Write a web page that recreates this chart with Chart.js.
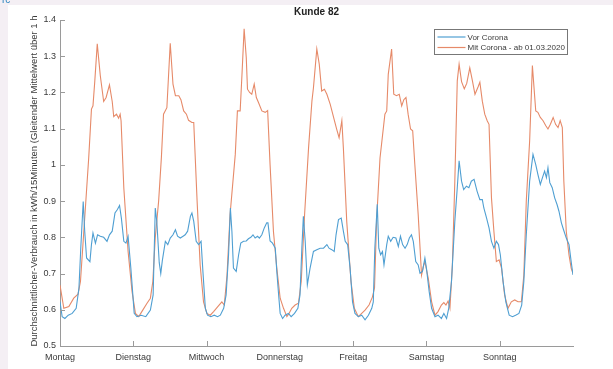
<!DOCTYPE html>
<html>
<head>
<meta charset="utf-8">
<script src="https://cdn.jsdelivr.net/npm/chart.js@4/dist/chart.umd.min.js"></script>
<style>
  html, body { margin: 0; padding: 0; background: #ffffff; }
  #wrap { width: 613px; height: 369px; }
</style>
</head>
<body>
<div id="wrap"><canvas id="c" width="613" height="369"></canvas></div>
<script>
// ---------- data ----------
const chartTitle = 'Kunde 82';
const yAxisTitle = 'Durchschnittlicher-Verbrauch in kWh/15Minuten (Gleitender Mittelwert über 1 h';
const dayLabels = ['Montag', 'Dienstag', 'Mittwoch', 'Donnerstag', 'Freitag', 'Samstag', 'Sonntag'];
const seriesNames = ['Vor Corona', 'Mit Corona - ab 01.03.2020'];

// hours since Monday 00:00
const vorHours = [
  0, 0.7, 1.6, 2.7, 4.0, 5.3, 6.2, 6.8, 7.6, 8.1, 8.7, 9.8, 10.3, 10.8, 11.6, 12.3, 13.2, 14.3, 15.4, 16.2, 17.1, 18.0, 18.8, 19.5, 20.1, 20.9, 21.6, 22.3, 23.2,
  24.3, 25.2, 26.6, 28.1, 29.6, 30.5, 31.2, 31.7, 32.5, 33.0, 33.5, 34.5, 35.3, 36.1, 37.0, 37.8, 38.5, 39.4, 40.3, 41.0, 41.8, 42.7, 43.2, 43.8, 44.6, 45.4, 46.2, 46.8, 47.6,
  48.3, 49.4, 50.5, 51.6, 52.5, 53.6, 54.4, 55.2, 55.8, 56.3, 56.8, 57.7, 58.5, 59.2, 60.1, 61.0, 61.7, 62.5, 63.2, 63.9, 64.7, 65.3, 66.1, 66.9, 67.7, 68.1, 68.8, 69.6, 70.5, 71.0, 71.6,
  72.1, 72.9, 73.7, 74.8, 75.7, 76.8, 77.9, 78.6, 79.2, 79.7, 80.3, 81.0, 81.9, 83.0, 84.1, 85.2, 86.3, 87.4, 88.1, 89.0, 89.8, 90.4, 91.2, 92.1, 92.8, 93.4, 94.2, 95.0, 95.8,
  96.6, 97.7, 98.8, 99.9, 101.0, 102.1, 102.6, 103.1, 103.9, 104.4, 105.0, 105.6, 106.1, 107.0, 107.5, 108.3, 109.1, 110.0, 110.8, 111.5, 112.2, 113.0, 113.7, 114.4, 115.1, 115.7, 116.5, 117.3, 117.9, 118.7, 119.5, 120.0, 120.9, 121.7,
  122.8, 123.8, 124.9, 125.7, 126.6, 127.3, 128.2, 129.3, 130.1, 130.7, 131.5, 132.2, 133.1, 133.9, 134.7, 135.6, 136.6, 137.5, 138.3, 138.8, 139.7, 140.5, 141.3, 142.1, 142.9, 143.6, 144.2, 145.1, 146.0,
  147.1, 148.2, 149.2, 150.3, 151.2, 151.9, 152.7, 153.8, 154.9, 155.8, 156.5, 157.3, 158.0, 158.7, 159.3, 159.8, 160.4, 161.2, 162.0, 162.8, 163.4, 164.2, 164.9, 165.8, 166.7, 167.4, 168.0
];
const vorValues = [
  0.622, 0.581, 0.576, 0.585, 0.590, 0.604, 0.659, 0.770, 0.899, 0.816, 0.743, 0.733, 0.780, 0.812, 0.784, 0.807, 0.803, 0.800, 0.789, 0.807, 0.817, 0.867, 0.877, 0.888, 0.853, 0.789, 0.784, 0.803, 0.715,
  0.590, 0.581, 0.585, 0.581, 0.599, 0.641, 0.881, 0.844, 0.730, 0.700, 0.735, 0.789, 0.780, 0.798, 0.807, 0.821, 0.803, 0.798, 0.803, 0.807, 0.817, 0.858, 0.867, 0.844, 0.789, 0.780, 0.789, 0.706, 0.604,
  0.585, 0.581, 0.585, 0.581, 0.585, 0.604, 0.641, 0.752, 0.881, 0.816, 0.715, 0.706, 0.752, 0.784, 0.789, 0.790, 0.796, 0.800, 0.807, 0.798, 0.803, 0.798, 0.807, 0.826, 0.840, 0.840, 0.790, 0.784, 0.770, 0.706, 0.641,
  0.590, 0.576, 0.585, 0.590, 0.581, 0.590, 0.604, 0.641, 0.770, 0.858, 0.789, 0.669, 0.715, 0.761, 0.766, 0.770, 0.770, 0.780, 0.770, 0.766, 0.761, 0.807, 0.849, 0.853, 0.817, 0.789, 0.780, 0.715, 0.622,
  0.590, 0.581, 0.585, 0.572, 0.585, 0.604, 0.622, 0.770, 0.891, 0.770, 0.752, 0.761, 0.724, 0.780, 0.803, 0.789, 0.800, 0.798, 0.775, 0.803, 0.780, 0.770, 0.780, 0.798, 0.807, 0.789, 0.733, 0.724, 0.701, 0.706, 0.743, 0.715, 0.650, 0.604,
  0.581, 0.585, 0.576, 0.590, 0.576, 0.604, 0.678, 0.844, 0.937, 1.011, 0.955, 0.932, 0.941, 0.937, 0.955, 0.960, 0.927, 0.904, 0.904, 0.881, 0.853, 0.826, 0.789, 0.770, 0.789, 0.780, 0.752, 0.678, 0.622,
  0.585, 0.581, 0.585, 0.590, 0.613, 0.678, 0.807, 0.955, 1.029, 1.001, 0.974, 0.946, 0.965, 0.983, 0.965, 0.992, 0.951, 0.937, 0.909, 0.890, 0.872, 0.840, 0.821, 0.798, 0.780, 0.733, 0.696
];

const mitHours = [
  0, 1.25, 2.9, 4.5, 5.9, 6.7, 7.8, 9.4, 10.3, 10.8, 11.4, 12.2, 13.2, 14.3, 15.1, 16.2, 17.1, 17.6, 18.5, 19.2, 19.7, 20.0, 20.9, 22.3, 23.6,
  24.7, 25.8, 27.1, 28.5, 29.6, 30.4, 31.2, 32.3, 33.2, 33.9, 35.0, 36.1, 37.0, 37.8, 38.9, 39.6, 40.5, 41.4, 42.1, 43.2, 43.8, 44.9, 45.9, 47.0,
  48.1, 49.2, 50.3, 51.4, 53.0, 53.8, 54.7, 55.7, 57.4, 58.1, 59.0, 59.6, 60.3, 61.0, 61.4, 62.1, 62.8, 63.6, 64.3, 65.0, 66.1, 67.2, 68.0, 68.8, 69.9, 71.0,
  72.1, 73.2, 74.3, 75.0, 75.9, 77.0, 78.1, 79.0, 80.1, 81.4, 82.5, 83.0, 84.1, 84.9, 85.7, 86.6, 87.4, 88.5, 89.6, 90.6, 91.4, 92.3, 92.8, 93.9, 95.3,
  96.4, 97.7, 98.8, 99.9, 101.2, 102.3, 103.0, 103.7, 104.8, 106.4, 107.0, 107.5, 108.6, 109.3, 110.2, 111.1, 111.9, 112.6, 113.3, 114.0, 114.8, 115.5, 116.2, 117.3, 118.4, 119.0, 119.5, 120.6, 121.7,
  122.8, 123.8, 124.9, 125.7, 126.4, 127.1, 127.7, 128.5, 129.3, 130.1, 130.7, 131.5, 132.4, 133.2, 134.2, 135.0, 135.9, 136.9, 137.5, 138.3, 139.1, 139.9, 140.5, 141.3, 142.1, 142.9, 143.8, 144.6, 145.6,
  146.7, 147.8, 148.9, 150.0, 151.1, 151.9, 152.7, 153.8, 154.7, 155.8, 156.5, 157.3, 158.2, 159.1, 159.8, 160.6, 161.5, 162.3, 163.1, 163.8, 164.5, 165.0, 165.8, 166.7, 167.4, 168.0
];
const mitValues = [
  0.668, 0.604, 0.609, 0.632, 0.643, 0.678, 0.816, 1.019, 1.154, 1.163, 1.232, 1.334, 1.246, 1.175, 1.186, 1.221, 1.175, 1.133, 1.140, 1.129, 1.140, 1.122, 0.936, 0.761, 0.650,
  0.590, 0.581, 0.599, 0.618, 0.632, 0.678, 0.800, 0.900, 1.020, 1.140, 1.158, 1.336, 1.223, 1.191, 1.191, 1.180, 1.149, 1.140, 1.123, 1.117, 1.117, 0.900, 0.724, 0.622,
  0.590, 0.585, 0.595, 0.606, 0.622, 0.613, 0.696, 0.863, 1.029, 1.149, 1.149, 1.250, 1.376, 1.296, 1.209, 1.200, 1.195, 1.223, 1.186, 1.172, 1.149, 1.145, 1.150, 1.000, 0.816, 0.715,
  0.632, 0.604, 0.581, 0.590, 0.604, 0.613, 0.618, 0.678, 0.863, 1.047, 1.176, 1.213, 1.320, 1.278, 1.204, 1.209, 1.195, 1.167, 1.131, 1.099, 1.075, 1.122, 1.047, 0.844, 0.678,
  0.604, 0.581, 0.590, 0.599, 0.613, 0.635, 0.660, 0.850, 1.019, 1.140, 1.149, 1.250, 1.320, 1.195, 1.191, 1.195, 1.163, 1.180, 1.186, 1.140, 1.099, 1.094, 1.001, 0.863, 0.696, 0.720, 0.733, 0.687, 0.622,
  0.585, 0.595, 0.613, 0.620, 0.613, 0.624, 0.604, 0.724, 0.955, 1.232, 1.278, 1.230, 1.210, 1.225, 1.268, 1.235, 1.195, 1.215, 1.228, 1.176, 1.140, 1.122, 1.112, 0.909, 0.816, 0.733, 0.738, 0.715, 0.641,
  0.604, 0.622, 0.627, 0.622, 0.622, 0.696, 0.900, 1.066, 1.274, 1.149, 1.145, 1.131, 1.122, 1.108, 1.099, 1.112, 1.131, 1.112, 1.103, 1.122, 1.103, 0.955, 0.816, 0.751, 0.715, 0.700
];

const yMin = 0.5, yMax = 1.4, yStep = 0.1;
const hoursPerDay = 24, weekHours = 168;

// ---------- styles ----------
const FONT = '"Liberation Sans", Arial, Helvetica, sans-serif';
const BLUE = '#4f9fd2';
const ORANGE = '#e68a69';
const AXIS = '#9a9a9a';
const TEXT = '#3a3a3a';

function toPoints(xs, ys) { return xs.map((x, i) => ({ x: x, y: ys[i] })); }

const decor = {
  id: 'decor',
  beforeDraw(chart) {
    const ctx = chart.ctx;
    ctx.save();
    ctx.fillStyle = '#ffffff';
    ctx.fillRect(0, 0, chart.width, chart.height);
    ctx.fillStyle = '#f4eff4';
    ctx.fillRect(0, 0, chart.width, 5);
    ctx.fillRect(0, 0, 8, chart.height);
    ctx.fillStyle = '#2f86c0';
    ctx.font = '10px ' + FONT;
    ctx.textBaseline = 'alphabetic';
    ctx.fillText('rc', 2, 3);
    ctx.restore();
  },
  afterDraw(chart) {
    const ctx = chart.ctx;
    const a = chart.chartArea;
    const xs = chart.scales.x, ys = chart.scales.y;
    ctx.save();
    // inward tick marks
    ctx.strokeStyle = AXIS;
    ctx.lineWidth = 1;
    ctx.beginPath();
    ys.ticks.forEach(t => {
      const py = Math.round(ys.getPixelForValue(t.value)) + 0.5;
      ctx.moveTo(a.left, py); ctx.lineTo(a.left + 5, py);
    });
    xs.ticks.forEach(t => {
      if (!dayLabels[Math.round(t.value / hoursPerDay)]) return;
      if (t.value === 0) return;
      const px = Math.round(xs.getPixelForValue(t.value)) + 0.5;
      ctx.moveTo(px, a.bottom); ctx.lineTo(px, a.bottom - 5);
    });
    ctx.stroke();

    // title
    ctx.fillStyle = '#222';
    ctx.font = 'bold 10px ' + FONT;
    ctx.textAlign = 'center';
    ctx.textBaseline = 'middle';
    ctx.fillText(chartTitle, (a.left + a.right) / 2, 12);

    // y axis title
    ctx.save();
    ctx.translate(34, (a.top + a.bottom) / 2 - 2);
    ctx.rotate(-Math.PI / 2);
    ctx.fillStyle = TEXT;
    ctx.font = '9.5px ' + FONT;
    ctx.textAlign = 'center';
    ctx.textBaseline = 'middle';
    ctx.fillText(yAxisTitle, 0, 0);
    ctx.restore();

    // legend
    const lx = 434.5, ly = 29.5, lw = 133, lh = 25;
    ctx.fillStyle = '#ffffff';
    ctx.fillRect(lx, ly, lw, lh);
    ctx.strokeStyle = '#777';
    ctx.strokeRect(lx, ly, lw, lh);
    chart.data.datasets.forEach((ds, i) => {
      const yy = ly + 7.5 + i * 10.5;
      ctx.strokeStyle = ds.borderColor;
      ctx.lineWidth = 1.2;
      ctx.beginPath();
      ctx.moveTo(lx + 3, yy); ctx.lineTo(lx + 31, yy);
      ctx.stroke();
      ctx.fillStyle = TEXT;
      ctx.font = '8px ' + FONT;
      ctx.textAlign = 'left';
      ctx.textBaseline = 'middle';
      ctx.fillText(ds.label, lx + 33, yy + 0.5);
    });
    ctx.restore();
  }
};

new Chart(document.getElementById('c'), {
  type: 'line',
  data: {
    datasets: [
      { label: seriesNames[0], data: toPoints(vorHours, vorValues), borderColor: BLUE, borderWidth: 1.1, pointRadius: 0, tension: 0, fill: false },
      { label: seriesNames[1], data: toPoints(mitHours, mitValues), borderColor: ORANGE, borderWidth: 1.1, pointRadius: 0, tension: 0, fill: false }
    ]
  },
  options: {
    responsive: false,
    animation: false,
    devicePixelRatio: 1,
    layout: { padding: { top: 20, right: 40, left: 0, bottom: 0 } },
    plugins: { legend: { display: false }, title: { display: false }, tooltip: { enabled: false } },
    scales: {
      x: {
        type: 'linear', min: 0, max: weekHours,
        ticks: {
          stepSize: hoursPerDay, autoSkip: false, maxRotation: 0, padding: 6,
          color: TEXT, font: { size: 9, family: FONT },
          callback: v => dayLabels[Math.round(v / hoursPerDay)] || ''
        },
        grid: { drawOnChartArea: false, drawTicks: false },
        border: { display: true, color: AXIS, width: 1 },
        afterFit: s => { s.height = 23; }
      },
      y: {
        min: yMin, max: yMax,
        ticks: {
          stepSize: yStep, padding: 4,
          color: TEXT, font: { size: 9, family: FONT },
          callback: v => String(Number(v.toFixed(1)))
        },
        grid: { drawOnChartArea: false, drawTicks: false },
        border: { display: true, color: AXIS, width: 1 },
        afterFit: s => { s.width = 60; }
      }
    }
  },
  plugins: [decor]
});
</script>
</body>
</html>
